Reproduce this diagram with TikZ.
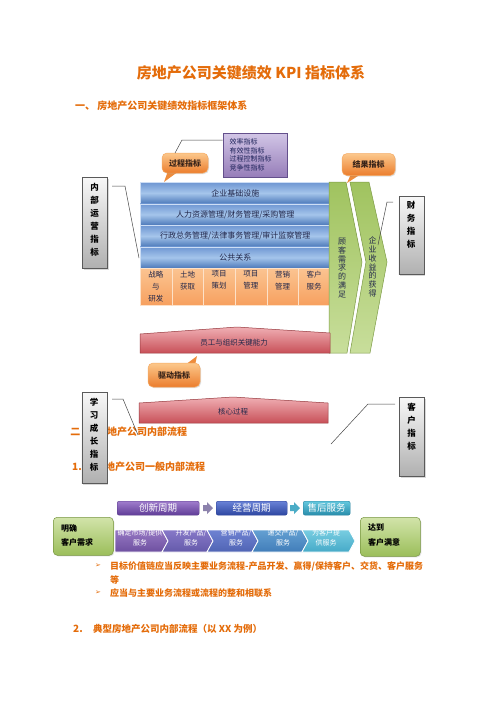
\documentclass[tikz,border=0pt]{standalone}
\usepackage{fontspec}
\setmainfont{Noto Sans CJK SC}
\newfontfamily\dejavu{DejaVu Sans}
\usetikzlibrary{shadows}
\definecolor{orT}{RGB}{228,108,10}
\definecolor{txtD}{RGB}{35,40,75}
\definecolor{blT}{RGB}{110,150,210}
\definecolor{blM}{RGB}{165,197,235}
\definecolor{blB}{RGB}{75,120,185}
\definecolor{blE}{RGB}{205,222,245}
\definecolor{ocT}{RGB}{251,196,145}
\definecolor{ocB}{RGB}{247,160,95}
\definecolor{ocE}{RGB}{253,225,200}
\definecolor{grT}{RGB}{160,195,95}
\definecolor{grB}{RGB}{200,222,155}
\definecolor{grE}{RGB}{125,155,70}
\definecolor{rdT}{RGB}{240,175,180}
\definecolor{rdB}{RGB}{200,80,88}
\definecolor{rdE}{RGB}{150,55,60}
\definecolor{caT}{RGB}{252,200,140}
\definecolor{caB}{RGB}{235,125,45}
\definecolor{caE}{RGB}{245,170,100}
\definecolor{caL}{RGB}{238,140,60}
\definecolor{caTx}{RGB}{55,35,25}
\definecolor{puT}{RGB}{210,198,230}
\definecolor{puB}{RGB}{150,125,185}
\definecolor{puE}{RGB}{100,80,140}
\definecolor{puTx}{RGB}{30,35,90}
\definecolor{lnC}{RGB}{70,70,70}
\definecolor{gbE}{RGB}{90,90,90}
\definecolor{gxT}{RGB}{210,228,170}
\definecolor{gxB}{RGB}{155,190,90}
\definecolor{gxE}{RGB}{120,150,65}
\definecolor{b1T}{RGB}{160,125,205}
\definecolor{b1B}{RGB}{95,60,150}
\definecolor{b1E}{RGB}{90,60,140}
\definecolor{b2T}{RGB}{105,130,215}
\definecolor{b2B}{RGB}{45,70,160}
\definecolor{b2E}{RGB}{45,65,150}
\definecolor{b3T}{RGB}{100,200,222}
\definecolor{b3B}{RGB}{40,140,170}
\definecolor{b3E}{RGB}{40,130,160}
\definecolor{ar1}{RGB}{140,130,172}
\definecolor{ar2}{RGB}{75,172,198}
\definecolor{v1T}{RGB}{150,120,195}
\definecolor{v1B}{RGB}{110,80,160}
\definecolor{v2T}{RGB}{135,120,200}
\definecolor{v2B}{RGB}{100,90,170}
\definecolor{v3T}{RGB}{110,130,210}
\definecolor{v3B}{RGB}{80,100,180}
\definecolor{v4T}{RGB}{100,160,210}
\definecolor{v4B}{RGB}{65,125,185}
\definecolor{v5T}{RGB}{120,205,225}
\definecolor{v5B}{RGB}{70,170,200}
\tikzset{
  head/.style={anchor=west, inner sep=0pt, text=orT, font=\fontsize{10}{12}\selectfont\bfseries},
  bluerow/.style={draw=blE, line width=0.5pt, top color=blT, bottom color=blB, middle color=blM,
    minimum width=190pt, minimum height=21.5pt, anchor=north west, inner sep=0pt,
    font=\fontsize{8}{9}\selectfont, text=txtD},
  ocell/.style={draw=ocE, line width=0.6pt, top color=ocT, bottom color=ocB,
    minimum width=31.67pt, minimum height=37pt, anchor=north west, inner sep=0pt},
  otext/.style={anchor=north, inner sep=0pt, align=center, text=txtD,
    font=\fontsize{7.5}{12}\selectfont},
  greenarrow/.style={draw=grE, line width=0.5pt, top color=grT, bottom color=grB},
  vtext/.style={inner sep=0pt, align=center, text=txtD, font=\fontsize{8}{8.8}\selectfont},
  redband/.style={draw=rdE, line width=0.5pt, top color=rdT, bottom color=rdB},
  rtext/.style={inner sep=0pt, text=txtD, font=\fontsize{7.5}{9}\selectfont},
  callbox/.style={rounded corners=5pt, top color=caT, bottom color=caB, draw=caE, line width=0.5pt,
    font=\fontsize{8}{9}\selectfont\bfseries, text=caTx, inner sep=0pt,
    drop shadow={opacity=0.25, shadow xshift=1pt, shadow yshift=-1pt}},
  calltail/.style={fill=caL},
  graybox/.style={draw=gbE, line width=0.6pt, top color=white!94!gray, bottom color=gray!62,
    minimum width=25pt, anchor=north west, inner sep=0pt,
    drop shadow={opacity=0.3, shadow xshift=1.2pt, shadow yshift=-1.2pt}},
  gtext/.style={anchor=north, inner sep=0pt, align=center, text=black,
    font=\fontsize{8.5}{13}\selectfont\bfseries},
  conn/.style={draw=lnC, line width=0.5pt},
  bar/.style={rounded corners=2pt, minimum height=14pt, inner sep=0pt, text=white,
    font=\fontsize{9.5}{10}\selectfont, anchor=north west},
  chev/.style={draw=white, line width=0.8pt},
  ctext/.style={inner sep=0pt, align=center, text=white, font=\fontsize{7}{10}\selectfont},
  gxbox/.style={rounded corners=4pt, top color=gxT, bottom color=gxB, draw=gxE, line width=0.5pt,
    anchor=north west, inner sep=0pt,
    drop shadow={opacity=0.25, shadow xshift=1pt, shadow yshift=-1pt}},
  gxtext/.style={anchor=west, inner sep=0pt, align=left, text=black,
    font=\fontsize{8}{14}\selectfont\bfseries},
  btext/.style={anchor=west, inner sep=0pt, text=orT, font=\fontsize{9}{11}\selectfont\bfseries},
  bmark/.style={anchor=west, inner sep=0pt, text=orT, font=\dejavu\fontsize{7}{8}\selectfont}
}
\begin{document}
\begin{tikzpicture}[x=1pt,y=-1pt]
\useasboundingbox (0,0) rectangle (496,702);
\fill[white] (0,0) rectangle (496,702);

% ---------- title and headings ----------
\node[anchor=center, inner sep=0pt, text=orT, font=\fontsize{15}{17}\selectfont\bfseries] (title) at (251,73) {房地产公司关键绩效 KPI 指标体系};
\node[head] (h1) at (75,106) {一、\ 房地产公司关键绩效指标框架体系};
\node[head, anchor=east] (h2n) at (80.5,432) {二};
\node[head] (h2) at (107,432) {地产公司内部流程};
\node[head] (h3n) at (72,467) {1.};
\node[head] (h3) at (105,467) {地产公司一般内部流程};

% ---------- blue rows ----------
\node[bluerow] (r1) at (140,182) {企业基础设施};
\node[bluerow] (r2) at (140,203.5) {人力资源管理/财务管理/采购管理};
\node[bluerow] (r3) at (140,225) {行政总务管理/法律事务管理/审计监察管理};
\node[bluerow] (r4) at (140,246.5) {公共关系};

% ---------- orange cells ----------
\node[ocell] (c1) at (140,268) {};
\node[ocell] (c2) at (171.67,268) {};
\node[ocell] (c3) at (203.33,268) {};
\node[ocell] (c4) at (235,268) {};
\node[ocell] (c5) at (266.67,268) {};
\node[ocell] (c6) at (298.33,268) {};
\node[otext] (c1t) at (155.8,270.5) {战略\\与\\研发};
\node[otext] (c2t) at (187.5,270.5) {土地\\获取};
\node[otext] (c3t) at (219.2,270.5) {项目\\策划};
\node[otext] (c4t) at (250.8,270.5) {项目\\管理};
\node[otext] (c5t) at (282.5,270.5) {营销\\管理};
\node[otext] (c6t) at (314.2,270.5) {客户\\服务};

% ---------- green arrows ----------
\shade[greenarrow] (329,182) -- (346,182) -- (362,262) -- (347,353) -- (329,353) -- cycle;
\shade[greenarrow] (350,182) -- (369,182) -- (387,262) -- (370,353) -- (350,353) -- (366,262) -- cycle;
\node[vtext] (g1t) at (342,268) {顾\\客\\需\\求\\的\\满\\足};
\node[vtext] (g2t) at (372.5,267) {企\\业\\收\\益\\的\\获\\得};

% ---------- red bands ----------
\shade[redband] (140,334) -- (237,327) -- (330,333) -- (330,353) -- (140,353) -- cycle;
\node[rtext] (rb1) at (234,343) {员工与组织关键能力};
\shade[redband] (139,403) -- (233,397) -- (328,403) -- (328,423) -- (139,423) -- cycle;
\node[rtext] (rb2) at (233,412) {核心过程};

% ---------- purple box ----------
\node[draw=puE, line width=0.6pt, top color=puT, bottom color=puB, minimum width=64pt, minimum height=44pt, inner sep=0pt] (pbox) at (255,155) {};
\node[anchor=west, inner sep=0pt, align=left, text=puTx, font=\fontsize{7}{8.5}\selectfont] (ptext) at (229.5,155) {效率指标\\有效性指标\\过程控制指标\\竞争性指标};

% ---------- callouts ----------
\fill[calltail] (168,171) -- (164,182) -- (179,171) -- cycle;
\node[callbox, minimum width=46pt, minimum height=20pt] (cbA) at (185,163) {过程指标};
\fill[calltail] (351,174) -- (347,183) -- (361,174) -- cycle;
\node[callbox, minimum width=53pt, minimum height=22pt] (cbB) at (368.5,164.5) {结果指标};
\fill[calltail] (185,365) -- (197,356) -- (195,365) -- cycle;
\node[callbox, minimum width=52pt, minimum height=24pt] (cbC) at (174,375) {驱动指标};

\coordinate (pA0) at (175,153);
\coordinate (pA1) at (182,140);
\draw[conn] (pA0) -- (pA1) -- (pbox.west |- pA1);

% ---------- gray boxes ----------
\node[graybox, minimum height=91pt] (gbA) at (82,177) {};
\node[gtext] (gbAt) at (94.5,183.5) {内\\部\\运\\营\\指\\标};
\node[graybox, minimum height=78pt] (gbB) at (398.5,196) {};
\node[gtext] (gbBt) at (411,201.5) {财\\务\\指\\标};
\node[graybox, minimum height=91pt] (gbC) at (81.5,392) {};
\node[gtext] (gbCt) at (94,397.5) {学\\习\\成\\长\\指\\标};
\node[graybox, minimum height=79pt] (gbD) at (399,397) {};
\node[gtext] (gbDt) at (411.5,402.5) {客\\户\\指\\标};

\coordinate (lA0) at (112,186); \coordinate (lA1) at (125,186); \coordinate (lA2) at (139,258);
\draw[conn] (lA0) -- (lA1) -- (lA2);
\coordinate (lB0) at (393,202); \coordinate (lB1) at (387,202); \coordinate (lB2) at (378,245);
\draw[conn] (lB0) -- (lB1) -- (lB2);
\coordinate (lC0) at (112,399); \coordinate (lC1) at (123,399); \coordinate (lC2) at (138,435);
\draw[conn] (lC0) -- (lC1) -- (lC2);
\coordinate (lD0) at (395,404); \coordinate (lD1) at (368,404); \coordinate (lD2) at (331,444);
\draw[conn] (lD0) -- (lD1) -- (lD2);

% ---------- process diagram ----------
\node[bar, top color=b1T, bottom color=b1B, draw=b1E, minimum width=82pt] (bar1) at (117,501) {创新周期};
\node[bar, top color=b2T, bottom color=b2B, draw=b2E, minimum width=71pt] (bar2) at (216,501) {经营周期};
\node[bar, top color=b3T, bottom color=b3B, draw=b3E, minimum width=47pt] (bar3) at (303,501) {售后服务};
\fill[ar1] (203,505) -- (207,505) -- (207,502) -- (213,508) -- (207,514) -- (207,511) -- (203,511) -- cycle;
\fill[ar2] (290,505) -- (294,505) -- (294,502) -- (300,508) -- (294,514) -- (294,511) -- (290,511) -- cycle;

\node[gxbox, minimum width=60pt, minimum height=38pt] (gxA) at (53,517) {};
\node[gxtext] (gxAt) at (61,535) {明确\\客户需求};
\node[gxbox, minimum width=60pt, minimum height=39pt] (gxB) at (360,517) {};
\node[gxtext] (gxBt) at (368,535) {达到\\客户满意};

\shade[chev, top color=v1T, bottom color=v1B] (115,530) -- (162,530) -- (168,541) -- (162,552) -- (115,552) -- cycle;
\shade[chev, top color=v2T, bottom color=v2B] (162,530) -- (207,530) -- (213,541) -- (207,552) -- (162,552) -- (168,541) -- cycle;
\shade[chev, top color=v3T, bottom color=v3B] (207,530) -- (252,530) -- (258,541) -- (252,552) -- (207,552) -- (213,541) -- cycle;
\shade[chev, top color=v4T, bottom color=v4B] (252,530) -- (302,530) -- (308,541) -- (302,552) -- (252,552) -- (258,541) -- cycle;
\shade[chev, top color=v5T, bottom color=v5B] (302,530) -- (349,530) -- (355,541) -- (349,552) -- (302,552) -- (308,541) -- cycle;
\node[ctext] (cv1) at (140,538) {确定市场/提供\\服务};
\node[ctext] (cv2) at (191,538) {开发产品/\\服务};
\node[ctext] (cv3) at (236,538) {营销产品/\\服务};
\node[ctext] (cv4) at (283,538) {递交产品/\\服务};
\node[ctext] (cv5) at (326,538) {为客户提\\供服务};

% ---------- bullets ----------
\node[bmark] (bm1) at (95,566) {➢};
\node[btext] (bt1) at (110,566) {目标价值链应当反映主要业务流程-产品开发、赢得/保持客户、交货、客户服务};
\node[btext] (bt1b) at (110,580) {等};
\node[bmark] (bm2) at (95,593) {➢};
\node[btext] (bt2) at (110,593) {应当与主要业务流程或流程的整和相联系};

\node[head] (h4n) at (73,629) {2.};
\node[head, font=\fontsize{9.5}{11}\selectfont\bfseries] (h4) at (93,629) {典型房地产公司内部流程（以 XX 为例）};
\end{tikzpicture}
\end{document}
